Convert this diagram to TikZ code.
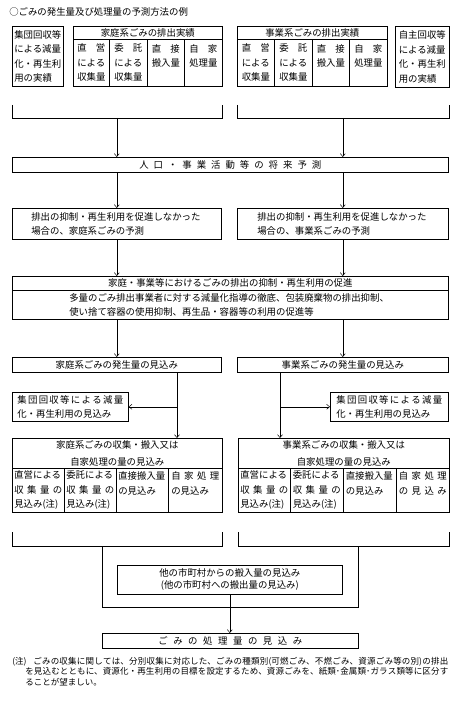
\documentclass[tikz,border=0pt]{standalone}
\usepackage{fontspec}
\setmainfont{Noto Sans CJK JP}
\usetikzlibrary{positioning,arrows.meta}
\newcommand\jpfont{\fontsize{9.4}{14.5}\selectfont}
\newcommand\notefont{\fontsize{8.5}{10.5}\selectfont}
\newcommand\spreadtext[2]{\makebox[#1][s]{#2}}

\begin{document}
\begin{tikzpicture}[
  x=1pt, y=-1pt,
  line width=0.6pt,
  box/.style={draw, anchor=north west, inner sep=0pt, font=\jpfont},
  cell/.style={box, minimum height=47pt, text width=28pt, align=left},
  lcell/.style={box, minimum height=44pt, text width=48pt, align=left},
  arr/.style={-{Straight Barb[length=3pt,width=5pt]}, line width=0.5pt}
]
\path[use as bounding box, fill=white] (0,0) rectangle (456,706);

\node[anchor=west, inner sep=0pt, font=\jpfont] (title) at (9,12) {○ごみの発生量及び処理量の予測方法の例};

% actual figures
\node[box, minimum width=51pt, minimum height=60pt, text width=47pt, align=left] (reca) at (12,26) {集団回収等\\による減量\\化・再生利\\用の実績};
\node[box, minimum width=149pt, minimum height=13pt] (hhhd) at (73,26) {家庭系ごみの排出実績};
\node[cell, minimum width=36pt] (hh1) at (73,39) {直\hfill 営\\による\\収集量};
\node[cell, minimum width=38pt] (hh2) at (109,39) {委\hfill 託\\による\\収集量};
\node[cell, minimum width=37pt] (hh3) at (147,39) {直\hfill 接\\搬入量\\\mbox{}};
\node[cell, minimum width=38pt] (hh4) at (184,39) {自\hfill 家\\処理量\\\mbox{}};
\node[box, minimum width=150pt, minimum height=13pt] (bzhd) at (237,26) {事業系ごみの排出実績};
\node[cell, minimum width=37pt] (bz1) at (237,39) {直\hfill 営\\による\\収集量};
\node[cell, minimum width=38pt] (bz2) at (274,39) {委\hfill 託\\による\\収集量};
\node[cell, minimum width=37pt] (bz3) at (312,39) {直\hfill 接\\搬入量\\\mbox{}};
\node[cell, minimum width=38pt] (bz4) at (349,39) {自\hfill 家\\処理量\\\mbox{}};
\node[box, minimum width=54pt, minimum height=61pt, text width=47pt, align=left] (recd) at (395,26) {自主回収等\\による減量\\化・再生利\\用の実績};

% forecasts
\node[box, minimum width=436pt, minimum height=15pt] (pop) at (12,157) {\spreadtext{182pt}{人\hfill 口\hfill ・\hfill 事\hfill 業\hfill 活\hfill 動\hfill 等\hfill の\hfill 将\hfill 来\hfill 予\hfill 測}};
\node[box, minimum width=209pt, minimum height=31pt, text width=171pt, align=left] (predh) at (12,208) {排出の抑制・再生利用を促進しなかった\\場合の、家庭系ごみの予測};
\node[box, minimum width=211pt, minimum height=31pt, text width=171pt, align=left] (predb) at (237,208) {排出の抑制・再生利用を促進しなかった\\場合の、事業系ごみの予測};
\node[box, minimum width=436pt, minimum height=14pt] (promohd) at (12,276) {家庭・事業等におけるごみの排出の抑制・再生利用の促進};
\node[box, minimum width=436pt, minimum height=29pt, text width=322pt, align=left] (promobd) at (12,290) {多量のごみ排出事業者に対する減量化指導の徹底、包装廃棄物の排出抑制、\\使い捨て容器の使用抑制、再生品・容器等の利用の促進等};
\node[box, minimum width=209pt, minimum height=15pt] (genh) at (12,357) {家庭系ごみの発生量の見込み};
\node[box, minimum width=211pt, minimum height=15pt] (genb) at (237,357) {事業系ごみの発生量の見込み};
\node[box, minimum width=116pt, minimum height=29pt, text width=106pt, align=left] (grph) at (12,392) {\spreadtext{106pt}{集\hfill 団\hfill 回\hfill 収\hfill 等\hfill に\hfill よ\hfill る\hfill 減\hfill 量}\\化・再生利用の見込み};
\node[box, minimum width=118pt, minimum height=29pt, text width=106pt, align=left] (grpb) at (330,392) {\spreadtext{106pt}{集\hfill 団\hfill 回\hfill 収\hfill 等\hfill に\hfill よ\hfill る\hfill 減\hfill 量}\\化・再生利用の見込み};

% collection
\node[box, minimum width=210pt, minimum height=30pt, align=center] (collhd) at (12,438) {家庭系ごみの収集・搬入又は\\[2.5pt]自家処理の量の見込み};
\node[lcell, minimum width=52pt] (ch1) at (12,468) {直営による\\収\hfill 集\hfill 量\hfill の\\見込み(注)};
\node[lcell, minimum width=52pt] (ch2) at (64,468) {委託による\\収\hfill 集\hfill 量\hfill の\\見込み(注)};
\node[lcell, minimum width=52pt] (ch3) at (116,468) {直接搬入量\\の見込み\\\mbox{}};
\node[lcell, minimum width=54pt] (ch4) at (168,468) {自\hfill 家\hfill 処\hfill 理\\の見込み\\\mbox{}};
\node[box, minimum width=211pt, minimum height=30pt, align=center] (collbd) at (238,438) {事業系ごみの収集・搬入又は\\[2.5pt]自家処理の量の見込み};
\node[lcell, minimum width=52pt] (cb1) at (238,468) {直営による\\収\hfill 集\hfill 量\hfill の\\見込み(注)};
\node[lcell, minimum width=53pt] (cb2) at (290,468) {委託による\\収\hfill 集\hfill 量\hfill の\\見込み(注)};
\node[lcell, minimum width=53pt] (cb3) at (343,468) {直接搬入量\\の見込み\\\mbox{}};
\node[lcell, minimum width=53pt] (cb4) at (396,468) {自\hfill 家\hfill 処\hfill 理\\の\hfill 見\hfill 込\hfill み\\\mbox{}};

% totals
\node[box, minimum width=225pt, minimum height=29pt, align=center] (oth) at (117,565) {他の市町村からの搬入量の見込み\\[-2.5pt](他の市町村への搬出量の見込み)};
\node[box, minimum width=256pt, minimum height=15pt] (fin) at (102,633) {\spreadtext{144pt}{ご\hfill み\hfill の\hfill 処\hfill 理\hfill 量\hfill の\hfill 見\hfill 込\hfill み}\hspace{24pt}};

\node[anchor=north west, inner sep=0pt, text width=436pt, align=justify, font=\notefont] (note) at (12,657) {\noindent\XeTeXlinebreaklocale "ja"\XeTeXlinebreakskip=0pt plus 1.5pt\relax\hangindent=13pt\hangafter=1 \makebox[21pt][l]{(注)}ごみの収集に関しては、分別収集に対応した、ごみの種類別(可燃ごみ、不燃ごみ、資源ごみ等の別)の排出\linebreak を見込むとともに、資源化・再生利用の目標を設定するため、資源ごみを、紙類･金属類･ガラス類等に区分す\linebreak ることが望ましい。\par};

% brackets and connectors
\coordinate (bk1t) at (0,105);
\coordinate (bk1b) at (0,118);
\coordinate (bk2t) at (0,532);
\coordinate (bk2b) at (0,546);
\coordinate (linh) at (177,0);
\coordinate (linb) at (280,0);
\coordinate (ul) at (102,546);
\coordinate (ur) at (358,546);
\coordinate (ubot) at (0,607);

\draw (reca.west |- bk1t) |- (hh4.east |- bk1b) -- (hh4.east |- bk1t);
\draw (bz1.west |- bk1t) |- (recd.east |- bk1b) -- (recd.east |- bk1t);
\draw[arr] (predh.north |- bk1b) -- (predh.north |- pop.north);
\draw[arr] (predb.north |- bk1b) -- (predb.north |- pop.north);
\draw[arr] (predh.north |- pop.south) -- (predh.north);
\draw[arr] (predb.north |- pop.south) -- (predb.north);
\draw[arr] (predh.south) -- (predh.south |- promohd.north);
\draw[arr] (predb.south) -- (predb.south |- promohd.north);
\draw[arr] (genh.north |- promobd.south) -- (genh.north);
\draw[arr] (genb.north |- promobd.south) -- (genb.north);
\draw[arr] (linh |- genh.south) -- (linh |- collhd.north);
\draw[arr] (linb |- genb.south) -- (linb |- collbd.north);
\draw[arr] (linh |- grph.east) -- (grph.east);
\draw[arr] (linb |- grpb.west) -- (grpb.west);
\draw (ch1.west |- bk2t) |- (ch4.east |- bk2b) -- (ch4.east |- bk2t);
\draw (cb1.west |- bk2t) |- (cb4.east |- bk2b) -- (cb4.east |- bk2t);
\draw (ul) |- (ur |- ubot) -- (ur);
\draw[arr] (oth.south) -- (oth.south |- fin.north);
\end{tikzpicture}
\end{document}
